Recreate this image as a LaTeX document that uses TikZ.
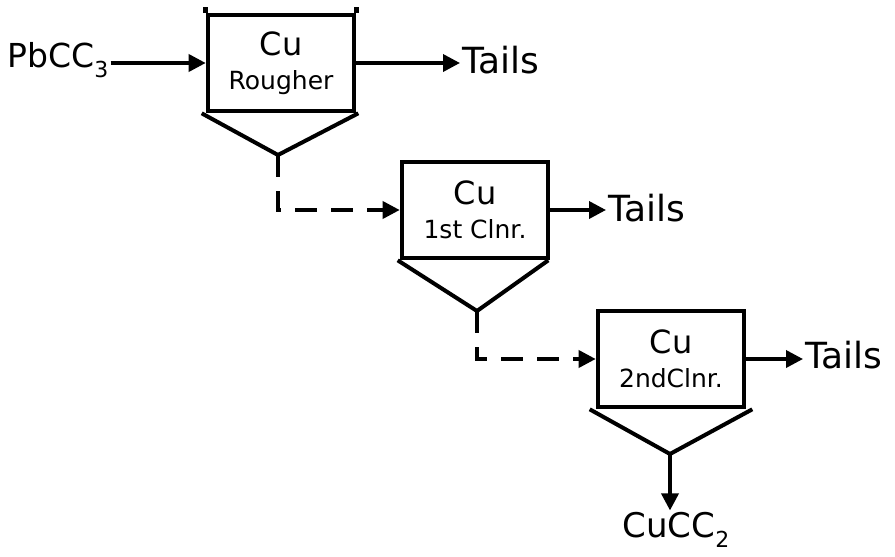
\documentclass[tikz,border=0pt]{standalone}
\usepackage{fontspec}
\setmainfont{DejaVu Sans}
\usetikzlibrary{arrows.meta}
\newcommand{\lowsub}[1]{\raisebox{-0.28em}{\fontsize{22}{24}\selectfont #1}}
\begin{document}
\begin{tikzpicture}[x=1pt,y=-1pt,
  cell/.style={draw,line width=4.6pt,minimum width=146pt,minimum height=96pt,
    inner sep=0pt,align=center,font=\fontsize{25}{34}\selectfont},
  cone/.style={line width=4pt,line join=miter},
  flow/.style={line width=3.6pt,-{Triangle[length=17pt,width=17pt]}},
  recycle/.style={flow,dash pattern=on 22pt off 14pt},
  lab/.style={font=\fontsize{36}{40}\selectfont,inner sep=2pt}]
\useasboundingbox (0,0) rectangle (895,557);

% flotation cells
\node[cell] (b1) at (281,63) {{\fontsize{32}{34}\selectfont Cu}\\Rougher};
\node[cell] (b2) at (475,210) {{\fontsize{32}{34}\selectfont Cu}\\1st Clnr.};
\node[cell] (b3) at (671,359) {{\fontsize{32}{34}\selectfont Cu}\\2ndClnr.};

% raised corners on the rougher lid
\draw[line width=4.6pt] (b1.north west) -- ++(0,-6);
\draw[line width=4.6pt] (b1.north east) -- ++(0,-6);

% conical bottoms
\coordinate (a1) at (278,155);
\coordinate (a2) at (477,311);
\coordinate (a3) at (670,454);
\draw[cone] ([xshift=-4pt]b1.south west) -- (a1) -- ([xshift=2pt]b1.south east);
\draw[cone] ([xshift=-2pt]b2.south west) -- (a2) -- ([xshift=-2pt]b2.south east);
\draw[cone] ([xshift=-6pt]b3.south west) -- (a3) -- ([xshift=6pt]b3.south east);

% labels
\node[lab,font=\fontsize{33}{36}\selectfont] (pb) at (58,60) {PbCC\lowsub{3}};
\node[lab,anchor=west] (t1) at (460,60) {Tails};
\node[lab,anchor=west] (t2) at (606,208) {Tails};
\node[lab,anchor=west] (t3) at (803,355) {Tails};
\node[lab,font=\fontsize{34}{36}\selectfont] (cc) at (676,530) {CuCC\lowsub{2}};

% streams
\draw[flow] (pb.east |- b1.west) -- (b1.west);
\draw[flow] (b1.east) -- (b1.east -| t1.west);
\draw[flow] (b2.east) -- (b2.east -| t2.west);
\draw[flow] (b3.east) -- (b3.east -| t3.west);
\draw[recycle] (a1) |- (b2.west);
\draw[recycle] (a2) |- (b3.west);
\draw[flow] (a3) -- (a3 |- cc.north);
\end{tikzpicture}
\end{document}
